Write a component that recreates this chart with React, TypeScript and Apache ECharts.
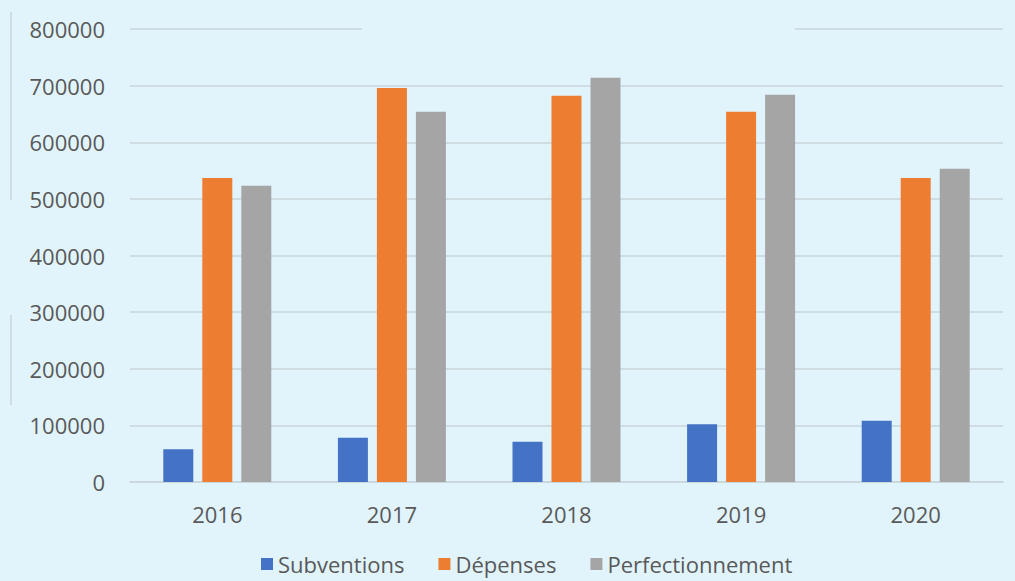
import React, { useEffect, useRef } from "react";
import * as echarts from "echarts";

const years = ["2016", "2017", "2018", "2019", "2020"];
const subventions = [58000, 78000, 71000, 102000, 108000];
const depenses = [537000, 696000, 682000, 654000, 537000];
const perfectionnement = [523000, 654000, 714000, 684000, 553000];

const BG = "#e1f4fb";
const GRID = "#c9d6db";
const TEXT = "#595959";
const FONT = "'Open Sans', 'Noto Sans', sans-serif";

export default function App() {
  const ref = useRef<HTMLDivElement>(null);
  useEffect(() => {
    document.body.style.margin = "0";
    const chart = echarts.init(ref.current!, null, { renderer: "svg" });
    chart.setOption({
      animation: false,
      backgroundColor: BG,
      grid: { left: 130, right: 12, top: 29, bottom: 99, containLabel: false },
      legend: {
        bottom: 1,
        left: 256,
        itemWidth: 12,
        itemHeight: 12,
        itemGap: 34,
        icon: "rect",
        textStyle: { color: TEXT, fontSize: 22, fontFamily: FONT },
        data: ["Subventions", "Dépenses", "Perfectionnement"],
      },
      xAxis: {
        type: "category",
        data: years,
        axisLine: { lineStyle: { color: GRID, width: 1.5 } },
        axisTick: { show: false },
        axisLabel: { color: TEXT, fontSize: 22, fontFamily: FONT, margin: 21 },
      },
      yAxis: {
        type: "value",
        min: 0,
        max: 800000,
        interval: 100000,
        axisLine: { show: false },
        axisTick: { show: false },
        axisLabel: { color: TEXT, fontSize: 22, fontFamily: FONT, margin: 25, formatter: (v: number) => String(v) },
        splitLine: { lineStyle: { color: GRID, width: 1.5 } },
      },
      graphic: [
        { type: "rect", shape: { x: 362, y: 24, width: 433, height: 10 }, style: { fill: BG }, z: 100 },
        { type: "line", shape: { x1: 11, y1: 12, x2: 11, y2: 200 }, style: { stroke: GRID, lineWidth: 1.5 } },
        { type: "line", shape: { x1: 11, y1: 315, x2: 11, y2: 405 }, style: { stroke: GRID, lineWidth: 1.5 } },
      ],
      series: [
        { name: "Subventions", type: "bar", data: subventions, barWidth: 30, barGap: "30%", itemStyle: { color: "#4472c4" } },
        { name: "Dépenses", type: "bar", data: depenses, barWidth: 30, barGap: "30%", itemStyle: { color: "#ed7d31" } },
        { name: "Perfectionnement", type: "bar", data: perfectionnement, barWidth: 30, barGap: "30%", itemStyle: { color: "#a5a5a5" } },
      ],
    });
    return () => chart.dispose();
  }, []);
  return <div ref={ref} style={{ width: 1015, height: 581 }} />;
}
